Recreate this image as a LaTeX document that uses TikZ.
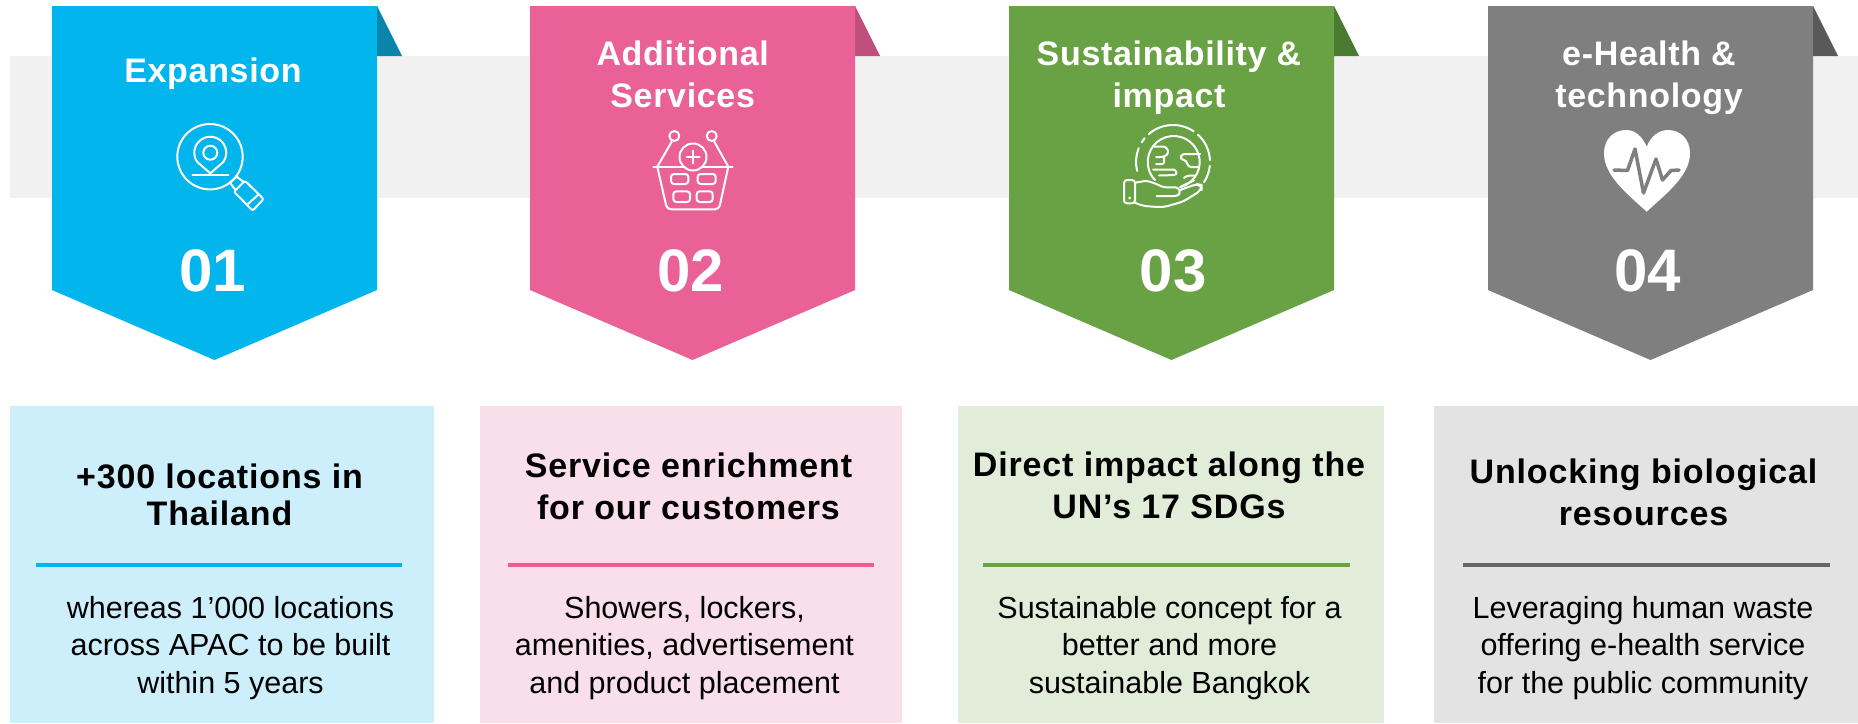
\documentclass[tikz,border=0pt]{standalone}
\usepackage{fontspec}
\setmainfont{Liberation Sans}
\newfontfamily\spacedfont[LetterSpace=2]{Liberation Sans}
\newfontfamily\headfont[LetterSpace=2.5]{Liberation Sans}
\definecolor{cyanA}{HTML}{02B5EC}\definecolor{cyanD}{HTML}{0B84A9}\definecolor{cyanL}{HTML}{CCEFFB}
\definecolor{pinkA}{HTML}{E96197}\definecolor{pinkD}{HTML}{BF4F7C}\definecolor{pinkL}{HTML}{F9DFEA}\definecolor{pinkR}{HTML}{EE5C96}
\definecolor{greenA}{HTML}{68A244}\definecolor{greenD}{HTML}{4A7A30}\definecolor{greenL}{HTML}{E1ECD9}
\definecolor{grayA}{HTML}{7F7F7F}\definecolor{grayD}{HTML}{595959}\definecolor{grayL}{HTML}{E3E3E3}\definecolor{grayR}{HTML}{666666}
\definecolor{bandC}{HTML}{F1F1F1}
\tikzset{
  titletext/.style={text=white,align=center,inner sep=0pt,anchor=base,font=\spacedfont\bfseries\fontsize{34}{42}\selectfont},
  numtext/.style={text=white,inner sep=0pt,anchor=base,font=\bfseries\fontsize{60}{70}\selectfont},
  headtext/.style={text=black,align=center,inner sep=0pt,anchor=base,font=\headfont\bfseries\fontsize{34}{42}\selectfont},
  bodytext/.style={text=black,align=center,inner sep=0pt,anchor=base,font=\fontsize{30.5}{37.5}\selectfont},
  iconline/.style={draw=white,line width=2pt,line cap=round,line join=round},
  rulebar/.style={line width=4pt}
}
\newcommand{\banner}[3]{%
  \fill[#3] (#1+325,6) -- (#1+350,56) -- (#1+325,56) -- cycle;
  \fill[#2] (#1,6) -- (#1+325,6) -- (#1+325,290) -- (#1+162.5,360) -- (#1,290) -- cycle;}
\begin{document}
\begin{tikzpicture}[x=1pt,y=-1pt]
\useasboundingbox (0,0) rectangle (1858,723);
\fill[white] (0,0) rectangle (1858,723);
\fill[bandC] (10,56) rectangle (1858,198);
% banners
\banner{52}{cyanA}{cyanD}
\banner{530}{pinkA}{pinkD}
\banner{1009}{greenA}{greenD}
\banner{1488}{grayA}{grayD}
% lower panels
\fill[cyanL] (10,406) rectangle (434,723);
\fill[pinkL] (480,406) rectangle (902,723);
\fill[greenL] (958,406) rectangle (1384,723);
\fill[grayL] (1434,406) rectangle (1858,723);
\draw[rulebar,cyanA] (36,565) -- (402,565);
\draw[rulebar,pinkR] (508,565) -- (874,565);
\draw[rulebar,greenA] (983,565) -- (1350,565);
\draw[rulebar,grayR] (1463,565) -- (1830,565);
% titles (anchored on the last line's baseline)
\node[titletext] (t1) at (213,82.7) {Expansion};
\node[titletext] (t2) at (682.7,107.7) {Additional\\Services};
\node[titletext] (t3) at (1169,107.5) {Sustainability \&\\impact};
\node[titletext] (t4) at (1649,107.5) {e-Health \&\\technology};
% numbers
\node[numtext] (n1) at (212.5,291) {01};
\node[numtext] (n2) at (691,291) {02};
\node[numtext] (n3) at (1173,291) {03};
\node[numtext] (n4) at (1647.5,291) {04};
% headings
\node[headtext,font=\headfont\bfseries\fontsize{34}{37}\selectfont] (h1) at (219.5,525) {+300 locations in\\Thailand};
\node[headtext] (h2) at (688.5,519) {Service enrichment\\for our customers};
\node[headtext] (h3) at (1169,518) {Direct impact along the\\UN’s 17 SDGs};
\node[headtext] (h4) at (1643.5,525) {Unlocking biological\\resources};
% bodies
\node[bodytext] (b1) at (230.5,693) {whereas 1’000 locations\\across APAC to be built\\within 5 years};
\node[bodytext] (b2) at (684.5,693) {Showers, lockers,\\amenities, advertisement\\and product placement};
\node[bodytext] (b3) at (1169.5,693) {Sustainable concept for a\\better and more\\sustainable Bangkok};
\node[bodytext] (b4) at (1643,693) {Leveraging human waste\\offering e-health service\\for the public community};
% icon 1: magnifier with pin
\draw[iconline] (210,156.7) circle[radius=32.7pt];
\draw[iconline] (210.3,173.3) -- (197.2,161.9) arc[start angle=215,end angle=-35,radius=16pt] -- cycle;
\draw[iconline] (210.3,152.7) circle[radius=7pt];
\draw[iconline] (192.3,174.5) -- (228.3,174.5);
\draw[iconline] (230,182.7) -- (236.7,176.7) -- (243.3,181.7);
\draw[iconline] (230,182.7) -- (235,189.5);
\draw[iconline,rounded corners=2pt] (234,191.7) -- (245,180.7) -- (263.6,199) -- (252.7,210.7) -- cycle;
\draw[iconline] (248,204) -- (259,194);
% icon 2: basket
\draw[iconline] (674.3,136) circle[radius=5pt];
\draw[iconline] (711.7,136) circle[radius=5pt];
\draw[iconline] (671.7,141.7) -- (657.3,166.7);
\draw[iconline] (714.3,141.7) -- (728.3,166.7);
\draw[iconline] (653.3,166.7) -- (732.7,166.7);
\draw[iconline,rounded corners=4pt] (657.3,166.7) -- (667,209.3) -- (719,209.3) -- (728.3,166.7);
\draw[iconline,fill=pinkA] (693,157) circle[radius=13.5pt];
\draw[iconline] (686.5,157) -- (699.5,157);
\draw[iconline] (693,150.5) -- (693,163.5);
\draw[iconline,rounded corners=3pt] (671,174) rectangle (688.3,184);
\draw[iconline,rounded corners=3pt] (697.7,174) rectangle (715.7,184);
\draw[iconline,rounded corners=3pt] (673.3,191.3) rectangle (690,202);
\draw[iconline,rounded corners=3pt] (696.7,191.3) rectangle (712.7,202);
% icon 3: globe on a hand
\draw[iconline] (1173.7,162) ++(-72:26pt) arc[start angle=-72,end angle=224,radius=26pt];
\foreach \a/\b in {158/194,140/148,56/131,3/48,-33/-6}
  \draw[iconline] (1173,162) ++(\a:37pt) arc[start angle=\a,end angle=\b,radius=37pt];
\draw[iconline,rounded corners=3pt] (1154,146.5) -- (1166,146.5) -- (1169,153) -- (1164,157) -- (1156,157);
\draw[iconline,rounded corners=2pt] (1164,157) -- (1164,164) -- (1156,164);
\draw[iconline,rounded corners=3pt] (1153,169.5) -- (1176,169.5) -- (1177,175) -- (1159,175.5);
\draw[iconline,rounded corners=3pt] (1200,154) -- (1181.7,154) -- (1180,159) -- (1186.7,160.7) -- (1188,167) -- (1199,167);
\draw[iconline,rounded corners=2pt] (1184,178) -- (1187,175.5) -- (1195,175.5);
\draw[iconline,fill=greenA,rounded corners=3pt] (1124,180) rectangle (1135,203.3);
\fill[white] (1129.5,198) circle[radius=1.5pt];
\draw[iconline,rounded corners=3pt] (1135,182.7) -- (1146.7,180.7) -- (1156.7,184) -- (1163,187.3) -- (1178,187.3) -- (1180.5,192) -- (1178,196) -- (1156.7,196);
\draw[iconline,rounded corners=5pt] (1135,202.7) -- (1143,206) -- (1163,207.3) -- (1183,201.7) -- (1201.7,190) -- (1201.7,185) -- (1196.7,184) -- (1180,190);
\draw[iconline] (1180,187) -- (1194,180.5);
% icon 4: heart
\fill[white] (1646.7,211.7) .. controls (1625,192) and (1604,175) .. (1604,153) .. controls (1604,139) and (1614,130) .. (1626,130) .. controls (1635,130) and (1642,136) .. (1646.7,146.7) .. controls (1651,136) and (1659,130) .. (1668,130) .. controls (1680,130) and (1690,139) .. (1690,153) .. controls (1690,175) and (1668,192) .. (1646.7,211.7) -- cycle;
\draw[grayA,line width=3.5pt,line join=round,line cap=round] (1614,170) -- (1627.5,170.5) -- (1635,149) -- (1643.5,193) -- (1656,159) -- (1662.5,180) -- (1671,170.5) -- (1679,170);
\end{tikzpicture}
\end{document}
